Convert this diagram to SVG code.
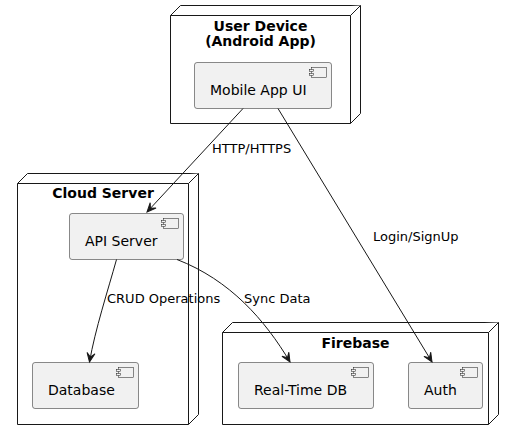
<svg xmlns="http://www.w3.org/2000/svg" width="513" height="440" viewBox="0 0 513 440">
<style>
.node{fill:#FFFFFF;stroke:#181818;stroke-width:1;}
.comp{fill:#F1F1F1;stroke:#181818;stroke-width:0.5;}
.icon{fill:#F1F1F1;stroke:#181818;stroke-width:0.5;}
.title{font-family:"DejaVu Sans",sans-serif;font-size:14px;font-weight:bold;fill:#000000;text-anchor:middle;}
.ctext{font-family:"DejaVu Sans",sans-serif;font-size:14px;fill:#000000;}
.elabel{font-family:"DejaVu Sans",sans-serif;font-size:13px;fill:#000000;}
.edge{fill:none;stroke:#181818;stroke-width:1;}
</style>
<defs>
<marker id="arrow" markerUnits="userSpaceOnUse" markerWidth="12" markerHeight="10" viewBox="-10 -5 11 10" refX="0" refY="0" orient="auto">
<path d="M0,0 L-9,-4 L-5,0 L-9,4 Z" fill="#181818" stroke="#181818" stroke-width="1"/>
</marker>
</defs>
<rect width="513" height="440" fill="#FFFFFF"/>

<g id="node-user-device">
<path class="node" d="M170.5,15.5 L180.5,5.5 L360.5,5.5 L360.5,113.5 L350.5,123.5 L170.5,123.5 Z"/>
<path class="node" d="M170.5,15.5 L350.5,15.5 L360.5,5.5 M350.5,15.5 L350.5,123.5"/>
<text class="title" x="260.5" y="31">User Device</text>
<text class="title" x="260.5" y="46">(Android App)</text>
</g>
<g id="comp-mobile-app-ui">
<rect class="comp" x="194.5" y="62.5" width="137" height="46" rx="2.5" ry="2.5"/>
<rect class="icon" x="311.5" y="67.5" width="15" height="10"/>
<rect class="icon" x="309.5" y="69.5" width="4" height="2"/>
<rect class="icon" x="309.5" y="73.5" width="4" height="2"/>
<text class="ctext" x="210" y="95">Mobile App UI</text>
</g>

<g id="node-cloud-server">
<path class="node" d="M17.5,183.5 L27.5,173.5 L198.5,173.5 L198.5,414.5 L188.5,424.5 L17.5,424.5 Z"/>
<path class="node" d="M17.5,183.5 L188.5,183.5 L198.5,173.5 M188.5,183.5 L188.5,424.5"/>
<text class="title" x="103" y="198">Cloud Server</text>
</g>
<g id="comp-api-server">
<rect class="comp" x="69.5" y="213.5" width="114" height="46" rx="2.5" ry="2.5"/>
<rect class="icon" x="163.5" y="218.5" width="15" height="10"/>
<rect class="icon" x="161.5" y="220.5" width="4" height="2"/>
<rect class="icon" x="161.5" y="224.5" width="4" height="2"/>
<text class="ctext" x="85" y="246">API Server</text>
</g>
<g id="comp-database">
<rect class="comp" x="32.5" y="362.5" width="106" height="46" rx="2.5" ry="2.5"/>
<rect class="icon" x="118.5" y="367.5" width="15" height="10"/>
<rect class="icon" x="116.5" y="369.5" width="4" height="2"/>
<rect class="icon" x="116.5" y="373.5" width="4" height="2"/>
<text class="ctext" x="48" y="395">Database</text>
</g>

<g id="node-firebase">
<path class="node" d="M222.5,332.5 L232.5,322.5 L498.5,322.5 L498.5,414.5 L488.5,424.5 L222.5,424.5 Z"/>
<path class="node" d="M222.5,332.5 L488.5,332.5 L498.5,322.5 M488.5,332.5 L488.5,424.5"/>
<text class="title" x="355.5" y="348">Firebase</text>
</g>
<g id="comp-realtime-db">
<rect class="comp" x="238.5" y="362.5" width="135" height="46" rx="2.5" ry="2.5"/>
<rect class="icon" x="353.5" y="367.5" width="15" height="10"/>
<rect class="icon" x="351.5" y="369.5" width="4" height="2"/>
<rect class="icon" x="351.5" y="373.5" width="4" height="2"/>
<text class="ctext" x="254" y="395">Real-Time DB</text>
</g>
<g id="comp-auth">
<rect class="comp" x="408.5" y="362.5" width="74" height="46" rx="2.5" ry="2.5"/>
<rect class="icon" x="462.5" y="367.5" width="15" height="10"/>
<rect class="icon" x="460.5" y="369.5" width="4" height="2"/>
<rect class="icon" x="460.5" y="373.5" width="4" height="2"/>
<text class="ctext" x="424" y="395">Auth</text>
</g>

<g id="connectors">
<path class="edge" d="M243,108.5 L147,212" marker-end="url(#arrow)"/>
<text class="elabel" x="212" y="153">HTTP/HTTPS</text>
<path class="edge" d="M278,108.5 L432,362" marker-end="url(#arrow)"/>
<text class="elabel" x="373" y="241">Login/SignUp</text>
<path class="edge" d="M116.5,259.5 C108,290 95,330 89.5,362" marker-end="url(#arrow)"/>
<text class="elabel" x="107" y="303">CRUD Operations</text>
<path class="edge" d="M177,259.5 C230,280 265,320 290,362" marker-end="url(#arrow)"/>
<text class="elabel" x="244" y="303">Sync Data</text>
</g>
</svg>
